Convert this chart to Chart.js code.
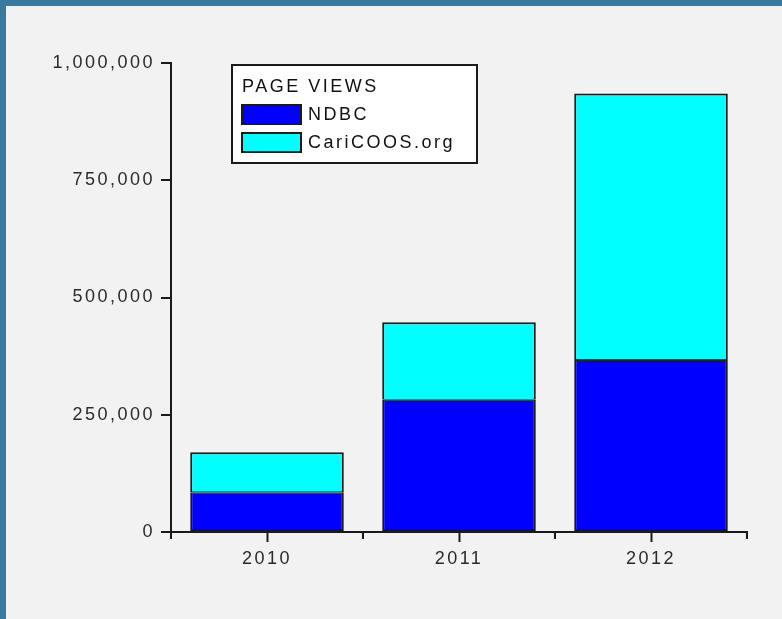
<!DOCTYPE html>
<html>
<head>
<meta charset="utf-8">
<script src="https://cdn.jsdelivr.net/npm/chart.js@4/dist/chart.umd.min.js"></script>
<style>
    html, body { margin: 0; padding: 0; background: #f2f2f2; overflow: hidden; }
    #frame {
        position: absolute; left: 0; top: 0;
        width: 776px; height: 613px;
        border-top: 6px solid #3a7a9f;
        border-left: 6px solid #3a7a9f;
    }
    canvas { display: block; }
</style>
</head>
<body>
<div id="frame"><canvas id="chart" width="776" height="613"></canvas></div>
<script>
/* Просмотры страниц по годам: NDBC + CariCOOS.org, столбцы с накоплением */

const years = ['2010', '2011', '2012'];
const ndbcViews = [85000, 282000, 367000];
const caricoosViews = [85000, 165000, 568000];
const yTicks = [0, 250000, 500000, 750000, 1000000];
const legendTitle = 'PAGE VIEWS';

const COLOR_NDBC = '#0000ff';
const COLOR_CARICOOS = '#00ffff';
const COLOR_LINE = '#1a1a1a';
const FONT = '"Liberation Sans", Arial, sans-serif';
const SPACING = '2.5px';

// Разреженный шрифт как на оригинале
const spacing = {
    id: 'spacing',
    beforeUpdate(c) { c.ctx.letterSpacing = SPACING; },
    beforeDraw(c) { c.ctx.letterSpacing = SPACING; },
};

// Короткие засечки по центрам категорий (на границах их рисует сама ось)
const centerTicks = {
    id: 'centerTicks',
    afterDraw(c) {
        const { ctx } = c;
        const x = c.scales.x;
        ctx.save();
        ctx.strokeStyle = COLOR_LINE;
        ctx.lineWidth = 2;
        years.forEach((_, i) => {
            const px = Math.round(x.getPixelForValue(i)) + 0.5;
            ctx.beginPath();
            ctx.moveTo(px, x.top);
            ctx.lineTo(px, x.top + 10);
            ctx.stroke();
        });
        ctx.restore();
    },
};

// Легенда в рамке внутри области графика
const boxedLegend = {
    id: 'boxedLegend',
    afterDraw(c) {
        const { ctx } = c;
        const left = 225, top = 58, w = 247, h = 100;
        ctx.save();
        ctx.fillStyle = '#ffffff';
        ctx.fillRect(left, top, w, h);
        ctx.strokeStyle = COLOR_LINE;
        ctx.lineWidth = 2;
        ctx.strokeRect(left + 1, top + 1, w - 2, h - 2);

        ctx.letterSpacing = SPACING;
        ctx.font = `18px ${FONT}`;
        ctx.fillStyle = '#111';
        ctx.textBaseline = 'middle';
        ctx.fillText(legendTitle, left + 11, top + 23);

        c.data.datasets.forEach((ds, i) => {
            const y = top + 40 + i * 28;
            ctx.fillStyle = ds.backgroundColor;
            ctx.fillRect(left + 10, y, 61, 21);
            ctx.lineWidth = 2;
            ctx.strokeRect(left + 11, y + 1, 59, 19);
            ctx.fillStyle = '#111';
            ctx.fillText(ds.label, left + 77, y + 11);
        });
        ctx.restore();
    },
};

new Chart(document.getElementById('chart'), {
    type: 'bar',
    data: {
        labels: years,
        datasets: [
            {
                label: 'NDBC',
                data: ndbcViews,
                backgroundColor: COLOR_NDBC,
                borderColor: COLOR_LINE,
                borderWidth: { top: 1, left: 2, right: 2, bottom: 2 },
                borderSkipped: false,
                barPercentage: 0.8,
                categoryPercentage: 1.0,
            },
            {
                label: 'CariCOOS.org',
                data: caricoosViews,
                backgroundColor: COLOR_CARICOOS,
                borderColor: COLOR_LINE,
                borderWidth: { top: 2, left: 2, right: 2, bottom: 1 },
                borderSkipped: false,
                barPercentage: 0.8,
                categoryPercentage: 1.0,
            },
        ],
    },
    options: {
        responsive: false,
        animation: false,
        layout: { padding: { top: 57, right: 35, left: 0, bottom: 0 } },
        plugins: { legend: { display: false }, tooltip: { enabled: false } },
        scales: {
            x: {
                stacked: true,
                offset: true,
                grid: { offset: true, drawOnChartArea: false, tickLength: 7, color: COLOR_LINE, lineWidth: 2 },
                border: { color: COLOR_LINE, width: 2 },
                ticks: { padding: 9, color: '#2a2a2a', font: { family: FONT, size: 18 } },
                afterFit: (s) => { s.height = 87; },
            },
            y: {
                stacked: true,
                min: 0,
                max: 1000000,
                afterBuildTicks: (s) => { s.ticks = yTicks.map((v) => ({ value: v })); },
                grid: { drawOnChartArea: false, tickLength: 10, color: COLOR_LINE, lineWidth: 2 },
                border: { color: COLOR_LINE, width: 2 },
                ticks: {
                    padding: 6,
                    color: '#2a2a2a',
                    font: { family: FONT, size: 18 },
                    callback: (v) => v.toLocaleString('en-US'),
                },
                afterFit: (s) => { s.width = 165; },
            },
        },
    },
    plugins: [spacing, centerTicks, boxedLegend],
});
</script>
</body>
</html>
